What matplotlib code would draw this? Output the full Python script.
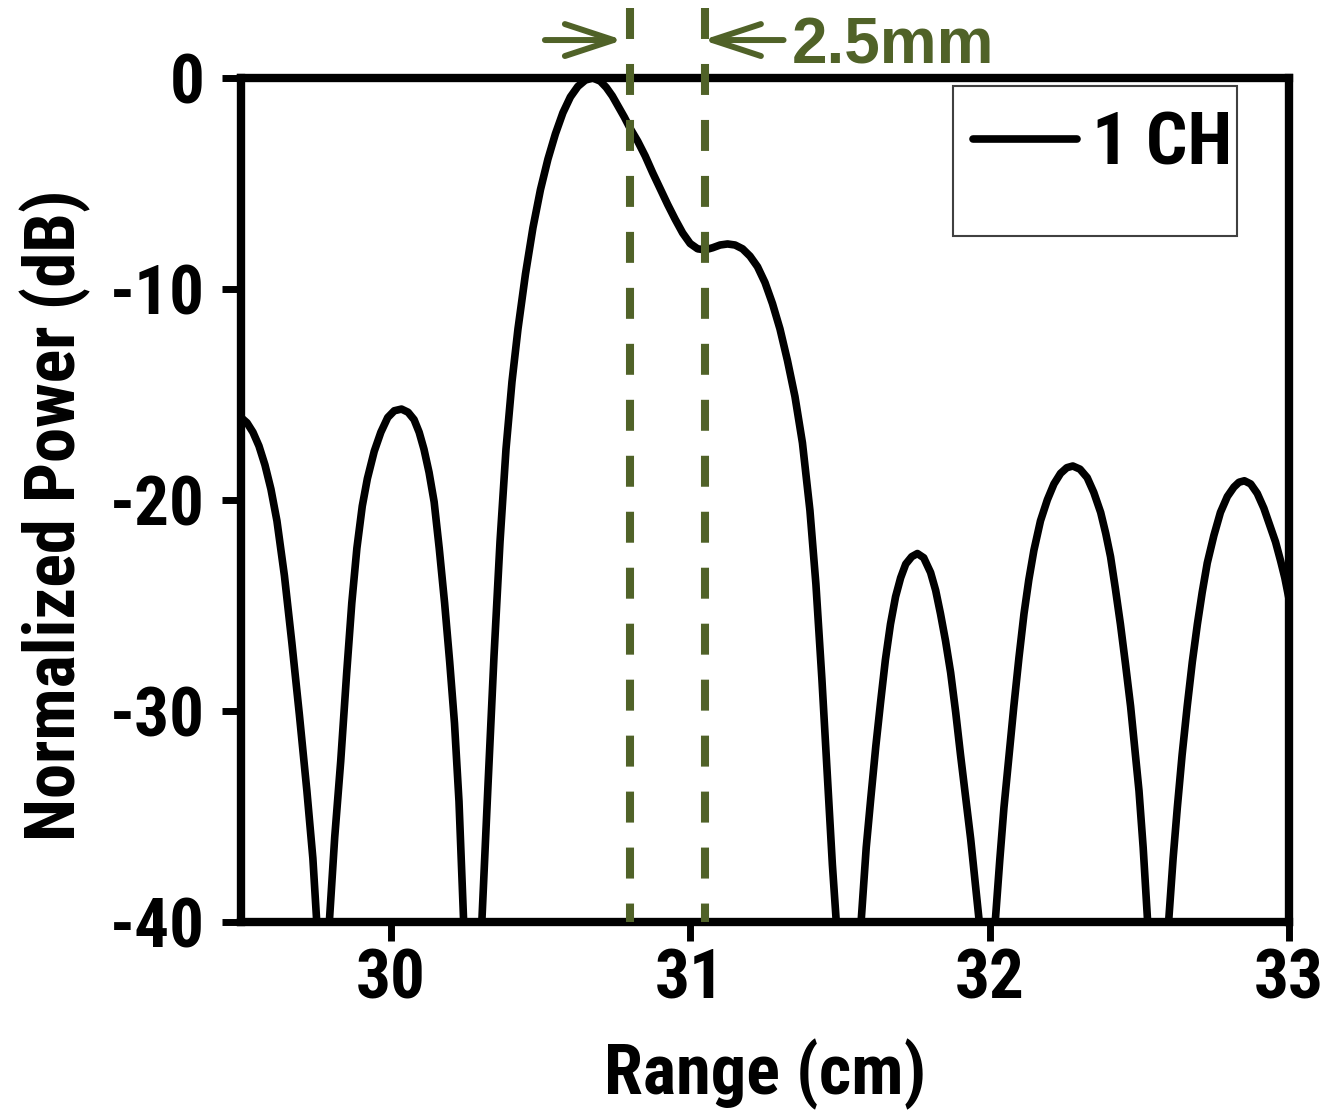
import os
import matplotlib
matplotlib.use("Agg")
import matplotlib.pyplot as plt
from matplotlib import font_manager as fm
from matplotlib.font_manager import FontProperties
from matplotlib.patches import Rectangle, FancyArrowPatch, ArrowStyle

plt.rcParams["font.family"] = ["Liberation Sans", "DejaVu Sans"]
plt.rcParams["font.weight"] = "bold"
plt.rcParams["axes.unicode_minus"] = False
plt.rcParams["lines.scale_dashes"] = False

# Range profile of a single channel (range in cm, normalized power in dB)
range_cm = [
    29.500, 29.520, 29.540, 29.560, 29.580, 29.600, 29.620, 29.645, 29.670, 29.695,
    29.720, 29.740, 29.752, 29.773,
    29.796, 29.813, 29.833, 29.853, 29.870, 29.887, 29.905, 29.922, 29.945, 29.967,
    29.990, 30.012, 30.036, 30.058, 30.078, 30.095, 30.111, 30.128, 30.145, 30.162,
    30.180, 30.197, 30.213, 30.228, 30.243, 30.272,
    30.305, 30.325, 30.345, 30.365, 30.385, 30.405, 30.425, 30.450, 30.475, 30.500,
    30.525, 30.550, 30.575, 30.600, 30.625, 30.650, 30.675, 30.700, 30.720, 30.740,
    30.760, 30.780, 30.800, 30.825, 30.850, 30.875, 30.900, 30.925, 30.950, 30.975,
    31.000, 31.025, 31.050, 31.075, 31.100, 31.125, 31.150, 31.175, 31.200, 31.225,
    31.250, 31.275, 31.300, 31.325, 31.350, 31.375, 31.400, 31.420, 31.440, 31.460,
    31.475, 31.487, 31.530,
    31.572, 31.588, 31.603, 31.620, 31.636, 31.652, 31.669, 31.686, 31.703, 31.720,
    31.740, 31.759, 31.780, 31.803, 31.820, 31.836, 31.853, 31.870, 31.887, 31.903,
    31.920, 31.937, 31.951, 31.964, 31.992,
    32.020, 32.034, 32.048, 32.065, 32.081, 32.098, 32.115, 32.131, 32.148, 32.170,
    32.193, 32.215, 32.237, 32.258, 32.278, 32.302, 32.326, 32.348, 32.371, 32.388,
    32.404, 32.420, 32.437, 32.454, 32.471, 32.485, 32.499, 32.513, 32.527, 32.563,
    32.599, 32.613, 32.627, 32.643, 32.660, 32.677, 32.694, 32.710, 32.727, 32.749,
    32.771, 32.794, 32.816, 32.833, 32.851, 32.872, 32.894, 32.916, 32.938, 32.955,
    32.972, 32.986, 33.000,
]
power_db = [
    -16.1, -16.35, -16.8, -17.45, -18.35, -19.5, -21.0, -23.6, -26.8, -30.2,
    -33.8, -37.0, -39.8, -50.0,
    -39.8, -36.0, -32.4, -28.2, -24.9, -22.3, -20.3, -19.0, -17.7, -16.8,
    -16.1, -15.78, -15.7, -15.85, -16.2, -16.8, -17.6, -18.7, -20.1, -22.3,
    -24.9, -27.7, -30.6, -34.3, -39.8, -50.0,
    -39.8, -33.5, -27.4, -22.0, -17.6, -14.4, -11.9, -9.3, -7.1, -5.3,
    -3.85, -2.65, -1.65, -0.9, -0.4, -0.1, 0.0, -0.15, -0.45, -0.85,
    -1.35, -1.85, -2.4, -3.0, -3.7, -4.5, -5.25, -6.0, -6.7, -7.35,
    -7.85, -8.1, -8.15, -8.05, -7.92, -7.87, -7.92, -8.1, -8.45, -8.95,
    -9.7, -10.7, -11.9, -13.4, -15.1, -17.3, -20.5, -24.0, -28.5, -33.5,
    -37.3, -39.8, -50.0,
    -39.8, -36.5, -34.2, -31.7, -29.6, -27.6, -25.9, -24.6, -23.7, -23.05,
    -22.7, -22.55, -22.75, -23.45, -24.3, -25.4, -26.7, -28.2, -30.1, -32.1,
    -34.1, -36.1, -38.0, -39.8, -43.0,
    -39.8, -37.1, -34.6, -32.1, -29.8, -27.5, -25.4, -23.8, -22.4, -21.0,
    -20.0, -19.25, -18.75, -18.48, -18.4, -18.55, -18.95, -19.65, -20.6, -21.6,
    -22.7, -24.2, -25.9, -27.8, -29.8, -31.8, -33.8, -36.5, -39.8, -50.0,
    -39.8, -37.0, -34.6, -32.1, -29.8, -27.7, -25.9, -24.4, -23.0, -21.7,
    -20.6, -19.85, -19.4, -19.17, -19.1, -19.25, -19.7, -20.4, -21.3, -22.0,
    -22.9, -23.7, -24.7,
]

series_label = "1 CH"
marker_cm = [30.80, 31.05]          # positions of the two resolved targets
spacing_label = "2.5mm"
x_ticks = [30, 31, 32, 33]
y_ticks = [0, -10, -20, -30, -40]
x_limits = (29.5, 33.0)
y_limits = (-40.0, 0.0)

GREEN = "#506228"


def find_narrow_bold():
    """Return the path of a narrow/condensed bold sans font, if one is installed."""
    files = [f.fname for f in fm.fontManager.ttflist]
    prefs = [
        "liberationsansnarrow-bold.",
        "arialnarrowbold", "arial narrow bold", "arialnb",
        "robotocondensed-bold.",
        "notosans-condensedbold.", "notosans-condensed-bold.",
        "opensans-condensedbold.", "opensanscondensed-bold.",
        "dejavusanscondensed-bold.",
    ]
    lower = {p: os.path.basename(p).lower() for p in files}
    for key in prefs:
        for p, b in lower.items():
            if b.startswith(key):
                return p
    for p, b in lower.items():
        if ("narrow" in b or "condensed" in b) and "bold" in b and "italic" not in b \
                and "semi" not in b and "extra" not in b and "ext" not in b:
            return p
    return None


narrow_path = find_narrow_bold()
if narrow_path:
    base_fp = FontProperties(fname=narrow_path)
else:
    base_fp = FontProperties(family="Liberation Sans", weight="bold")

fig = plt.figure(figsize=(13.25, 11.12), dpi=100)
renderer = fig.canvas.get_renderer()

# scale the label font so that its width follows a narrow Arial-type face
probe = fig.text(0, 0, "Normalized Power (dB)", fontproperties=base_fp, size=52)
probe_w = probe.get_window_extent(renderer).width
probe.remove()
shrink = min(1.0, 652.0 / probe_w)


def fp(size):
    p = base_fp.copy()
    p.set_size(size * shrink)
    return p


ax = fig.add_axes([241 / 1325, 1 - 921.5 / 1112, (1289 - 241) / 1325, (921.5 - 78) / 1112])

ax.plot(range_cm, power_db, color="black", lw=5.5,
        solid_joinstyle="round", solid_capstyle="round", label=series_label, zorder=3)

ax.set_xlim(*x_limits)
ax.set_ylim(*y_limits)
ax.set_xticks(x_ticks)
ax.set_xticklabels([str(t) for t in x_ticks], fontproperties=fp(51))
ax.set_yticks(y_ticks)
ax.set_yticklabels([str(t) for t in y_ticks], fontproperties=fp(51))
ax.minorticks_off()

for side in ("left", "right", "top", "bottom"):
    ax.spines[side].set_linewidth(6)
ax.tick_params(direction="out", length=14, width=5, top=False, right=False)
ax.tick_params(axis="y", pad=12)
ax.tick_params(axis="x", pad=5)

# Vertical markers extending slightly above the plot frame
top_db = 3.32
for xm in marker_cm:
    ax.plot([xm, xm], [top_db, y_limits[0]], color=GREEN, lw=5.8,
            dashes=(22.3, 18.0), clip_on=False, zorder=6)

# Arrows pointing at the markers
arrow_y = 1.8
style = ArrowStyle("->", head_length=35, head_width=11.5)
for start, end in [(marker_cm[0] - 0.285, marker_cm[0] - 0.024),
                   (marker_cm[1] + 0.262, marker_cm[1] - 0.008)]:
    arr = FancyArrowPatch(posA=(start, arrow_y), posB=(end, arrow_y),
                          arrowstyle=style, mutation_scale=1, lw=4.3,
                          color=GREEN, shrinkA=0, shrinkB=0,
                          capstyle="round", joinstyle="round",
                          clip_on=False, zorder=6)
    ax.add_patch(arr)

ax.text(marker_cm[1] + 0.29, 0.71, spacing_label, fontsize=46,
        family=["Liberation Sans", "DejaVu Sans"], weight="bold",
        color=GREEN, ha="left", va="baseline", clip_on=False)

# Legend with its own frame
ax.add_patch(Rectangle((0.6794, 0.8127), 0.271, 0.1778, transform=ax.transAxes,
                       fill=False, lw=1.5, ec="#404040", zorder=4))
ax.legend(loc="upper left", bbox_to_anchor=(0.6985, 0.961), frameon=False,
          borderpad=0, borderaxespad=0, handlelength=1.39 / shrink, handletextpad=0.2,
          prop=fp(54))

ax.set_xlabel("Range (cm)", fontproperties=fp(52))
ax.xaxis.set_label_coords(0.5, -0.2045)
ax.xaxis.label.set_va("baseline")
ax.set_ylabel("Normalized Power (dB)", fontproperties=fp(52))
ax.yaxis.set_label_coords(-0.1584, 0.482)
ax.yaxis.label.set_va("baseline")

fig.savefig("out.png", dpi=100)
